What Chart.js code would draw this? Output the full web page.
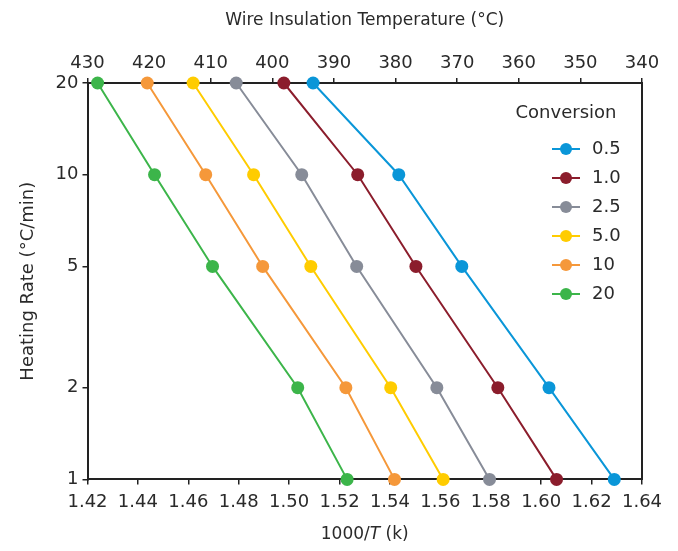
<!DOCTYPE html>
<html>
<head>
<meta charset="utf-8">
<script src="https://cdn.jsdelivr.net/npm/chart.js@4/dist/chart.umd.min.js"></script>
<style>
  html, body { margin: 0; padding: 0; background: #fff; }
  #wrap { width: 678px; height: 551px; }
</style>
</head>
<body>
<div id="wrap"><canvas id="arrhenius"></canvas></div>
<script>
const conversions = ['0.5', '1.0', '2.5', '5.0', '10', '20'];
const heatingRates = [20, 10, 5, 2, 1];
const invT_05 = [1.5095, 1.5435, 1.5685, 1.6031, 1.6290];
const invT_10 = [1.4979, 1.5272, 1.5503, 1.5828, 1.6061];
const invT_25 = [1.4790, 1.5050, 1.5268, 1.5586, 1.5795];
const invT_50 = [1.4619, 1.4859, 1.5086, 1.5403, 1.5611];
const invT_100 = [1.4437, 1.4669, 1.4895, 1.5225, 1.5418];
const invT_200 = [1.4240, 1.4466, 1.4696, 1.5034, 1.5230];
const yTicks = [1, 2, 5, 10, 20];
const tempTicks = [430, 420, 410, 400, 390, 380, 370, 360, 350, 340];

const colors = ['#0a96d8', '#8b1d2c', '#878c98', '#ffcc00', '#f5983a', '#3cb54a'];
const series = [invT_05, invT_10, invT_25, invT_50, invT_100, invT_200];
const FONT = 'DejaVu Sans';
const TXT = '#2a2a2a';

const datasets = series.map((xs, i) => ({
  label: conversions[i],
  data: xs.map((x, j) => ({ x: x, y: heatingRates[j] })),
  borderColor: colors[i],
  backgroundColor: colors[i],
  pointBackgroundColor: colors[i],
  pointBorderWidth: 0,
  pointRadius: 6.5,
  borderWidth: 2,
  showLine: true,
  clip: false
}));

// legend drawn inside the plot, with line + dot markers
const insideLegend = {
  id: 'insideLegend',
  afterDatasetsDraw(chart) {
    const ctx = chart.ctx, a = chart.chartArea;
    const lx = a.right - 76, ty = a.top + 30;
    ctx.save();
    ctx.fillStyle = TXT;
    ctx.font = '18px "' + FONT + '"';
    ctx.textAlign = 'center';
    ctx.textBaseline = 'middle';
    ctx.fillText('Conversion', lx, ty);
    ctx.textAlign = 'left';
    conversions.forEach((c, i) => {
      const y = ty + 36 + i * 29;
      ctx.strokeStyle = colors[i];
      ctx.lineWidth = 2;
      ctx.beginPath();
      ctx.moveTo(lx - 14, y);
      ctx.lineTo(lx + 14, y);
      ctx.stroke();
      ctx.fillStyle = colors[i];
      ctx.beginPath();
      ctx.arc(lx, y, 6, 0, Math.PI * 2);
      ctx.fill();
      ctx.fillStyle = TXT;
      ctx.fillText(c, lx + 26, y);
    });
    ctx.restore();
  }
};

// x title with italic T
const xTitle = {
  id: 'xTitle',
  afterDraw(chart) {
    const ctx = chart.ctx, a = chart.chartArea;
    const parts = [['1000/', '17px'], ['T', 'italic 17px'], [' (k)', '17px']];
    ctx.save();
    ctx.fillStyle = TXT;
    ctx.textBaseline = 'middle';
    let w = 0;
    parts.forEach(p => { ctx.font = p[1] + ' "' + FONT + '"'; w += ctx.measureText(p[0]).width; });
    let x = (a.left + a.right) / 2 - w / 2;
    parts.forEach(p => {
      ctx.font = p[1] + ' "' + FONT + '"';
      ctx.fillText(p[0], x, 535);
      x += ctx.measureText(p[0]).width;
    });
    ctx.restore();
  }
};

const axisGrid = { display: true, drawOnChartArea: false, drawTicks: true, tickLength: 5, color: '#222', lineWidth: 1.5 };
const axisBorder = { display: true, color: '#222', width: 2 };
const tickFont = { family: FONT, size: 18 };

new Chart(document.getElementById('arrhenius'), {
  type: 'scatter',
  data: { datasets: datasets },
  options: {
    responsive: true,
    maintainAspectRatio: false,
    animation: false,
    layout: { padding: { left: 18, right: 36, top: 10, bottom: 31 } },
    plugins: {
      legend: { display: false },
      tooltip: { enabled: false }
    },
    scales: {
      x: {
        type: 'linear',
        position: 'bottom',
        min: 1.42,
        max: 1.64,
        afterBuildTicks: s => { s.ticks = []; for (let v = 1.42; v < 1.6401; v += 0.02) s.ticks.push({ value: +v.toFixed(2) }); },
        ticks: { color: TXT, font: tickFont, padding: 7, callback: v => v.toFixed(2), maxRotation: 0, autoSkip: false },
        grid: axisGrid,
        border: axisBorder
      },
      xTop: {
        type: 'linear',
        position: 'top',
        min: 340,
        max: 430,
        reverse: true,
        afterBuildTicks: s => { s.ticks = tempTicks.map(v => ({ value: v })); },
        ticks: { color: TXT, font: tickFont, padding: 4, maxRotation: 0, autoSkip: false },
        grid: axisGrid,
        border: axisBorder,
        title: { display: true, text: 'Wire Insulation Temperature (°C)', color: TXT, font: { family: FONT, size: 17 }, padding: { top: 0, bottom: 18 } }
      },
      y: {
        type: 'logarithmic',
        position: 'left',
        min: 1,
        max: 20,
        afterBuildTicks: s => { s.ticks = yTicks.map(v => ({ value: v })); },
        ticks: { color: TXT, font: tickFont, padding: 4, callback: v => String(v), autoSkip: false },
        grid: axisGrid,
        border: axisBorder,
        title: { display: true, text: 'Heating Rate (°C/min)', color: TXT, font: { family: FONT, size: 18 }, padding: { top: 0, bottom: 12 } }
      },
      yRight: {
        type: 'linear',
        position: 'right',
        min: 0,
        max: 1,
        ticks: { display: false },
        grid: { display: false, drawTicks: false },
        border: axisBorder
      }
    }
  },
  plugins: [insideLegend, xTitle]
});
</script>
</body>
</html>
